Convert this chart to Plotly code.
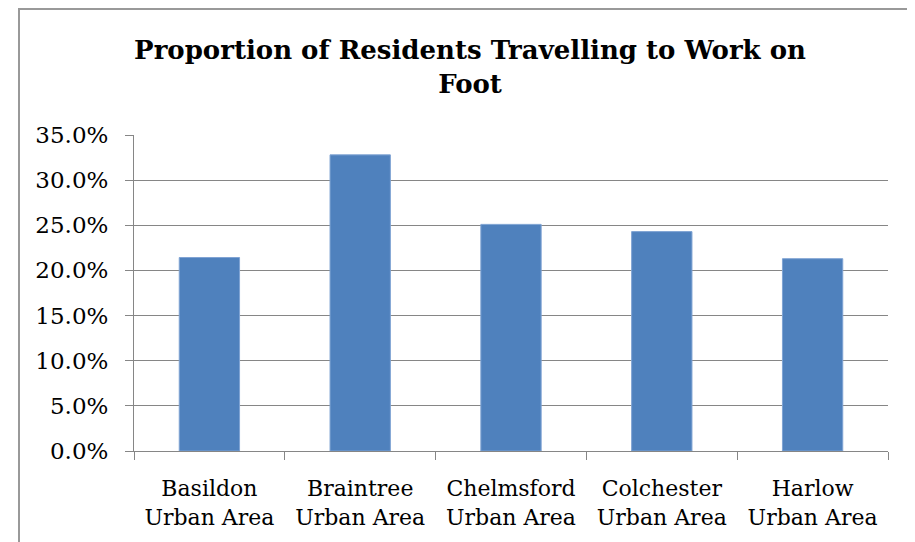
import plotly.graph_objects as go

categories = ["Basildon<br>Urban Area", "Braintree<br>Urban Area", "Chelmsford<br>Urban Area",
              "Colchester<br>Urban Area", "Harlow<br>Urban Area"]
values = [0.2143, 0.328, 0.251, 0.243, 0.213]
y_ticks = [0, 0.05, 0.10, 0.15, 0.20, 0.25, 0.30, 0.35]
title_text = "Proportion of Residents Travelling to Work on<br>Foot"

OFF = 8  # page body margin
W, H = 915 - OFF, 542 - OFF
L, T = 126, 127
R = W - 880
B = H - 443
pw, ph = W - L - R, H - T - B

def px_x(p):
    return (p - OFF - L) / pw

def px_y(p):
    return (H - B - (p - OFF)) / ph

FONT = "DejaVu Serif"
GRID = "#868686"

fig = go.Figure(go.Bar(
    x=categories, y=values,
    marker=dict(color="#4F81BD", line=dict(color="#7FA3D3", width=1)),
))

fig.update_layout(
    width=W, height=H,
    margin=dict(l=L, r=R, t=T, b=B, autoexpand=False),
    paper_bgcolor="white", plot_bgcolor="white",
    bargap=0.6,
    showlegend=False,
    font=dict(family=FONT, color="black"),
    title=dict(text="<b>" + title_text + "</b>", font=dict(family=FONT, size=26, color="black"),
               x=px_x(470), xref="paper", xanchor="center",
               y=1 - 51 / H, yref="container", yanchor="top"),
    xaxis=dict(
        type="category", tickson="boundaries", ticks="outside", ticklen=8, tickcolor=GRID,
        tickwidth=1, showline=True, linecolor=GRID, linewidth=1, showgrid=False,
        tickfont=dict(family=FONT, size=22, color="black"),
        ticklabelstandoff=18,
    ),
    yaxis=dict(
        range=[0, 0.35], tickvals=y_ticks, tickformat=".1%",
        ticks="outside", ticklen=8, tickcolor=GRID, tickwidth=1,
        showline=True, linecolor=GRID, linewidth=1,
        showgrid=True, gridcolor=GRID, gridwidth=1, zeroline=False,
        tickfont=dict(family=FONT, size=23, color="black"),
        ticklabelstandoff=12,
    ),
    shapes=[
        dict(type="line", xref="paper", yref="paper", x0=px_x(19), x1=px_x(19),
             y0=px_y(9), y1=px_y(560), line=dict(color="#999999", width=2)),
        dict(type="line", xref="paper", yref="paper", x0=px_x(18), x1=px_x(930),
             y0=px_y(9), y1=px_y(9), line=dict(color="#999999", width=2)),
    ],
)

fig.write_html("out.html")
